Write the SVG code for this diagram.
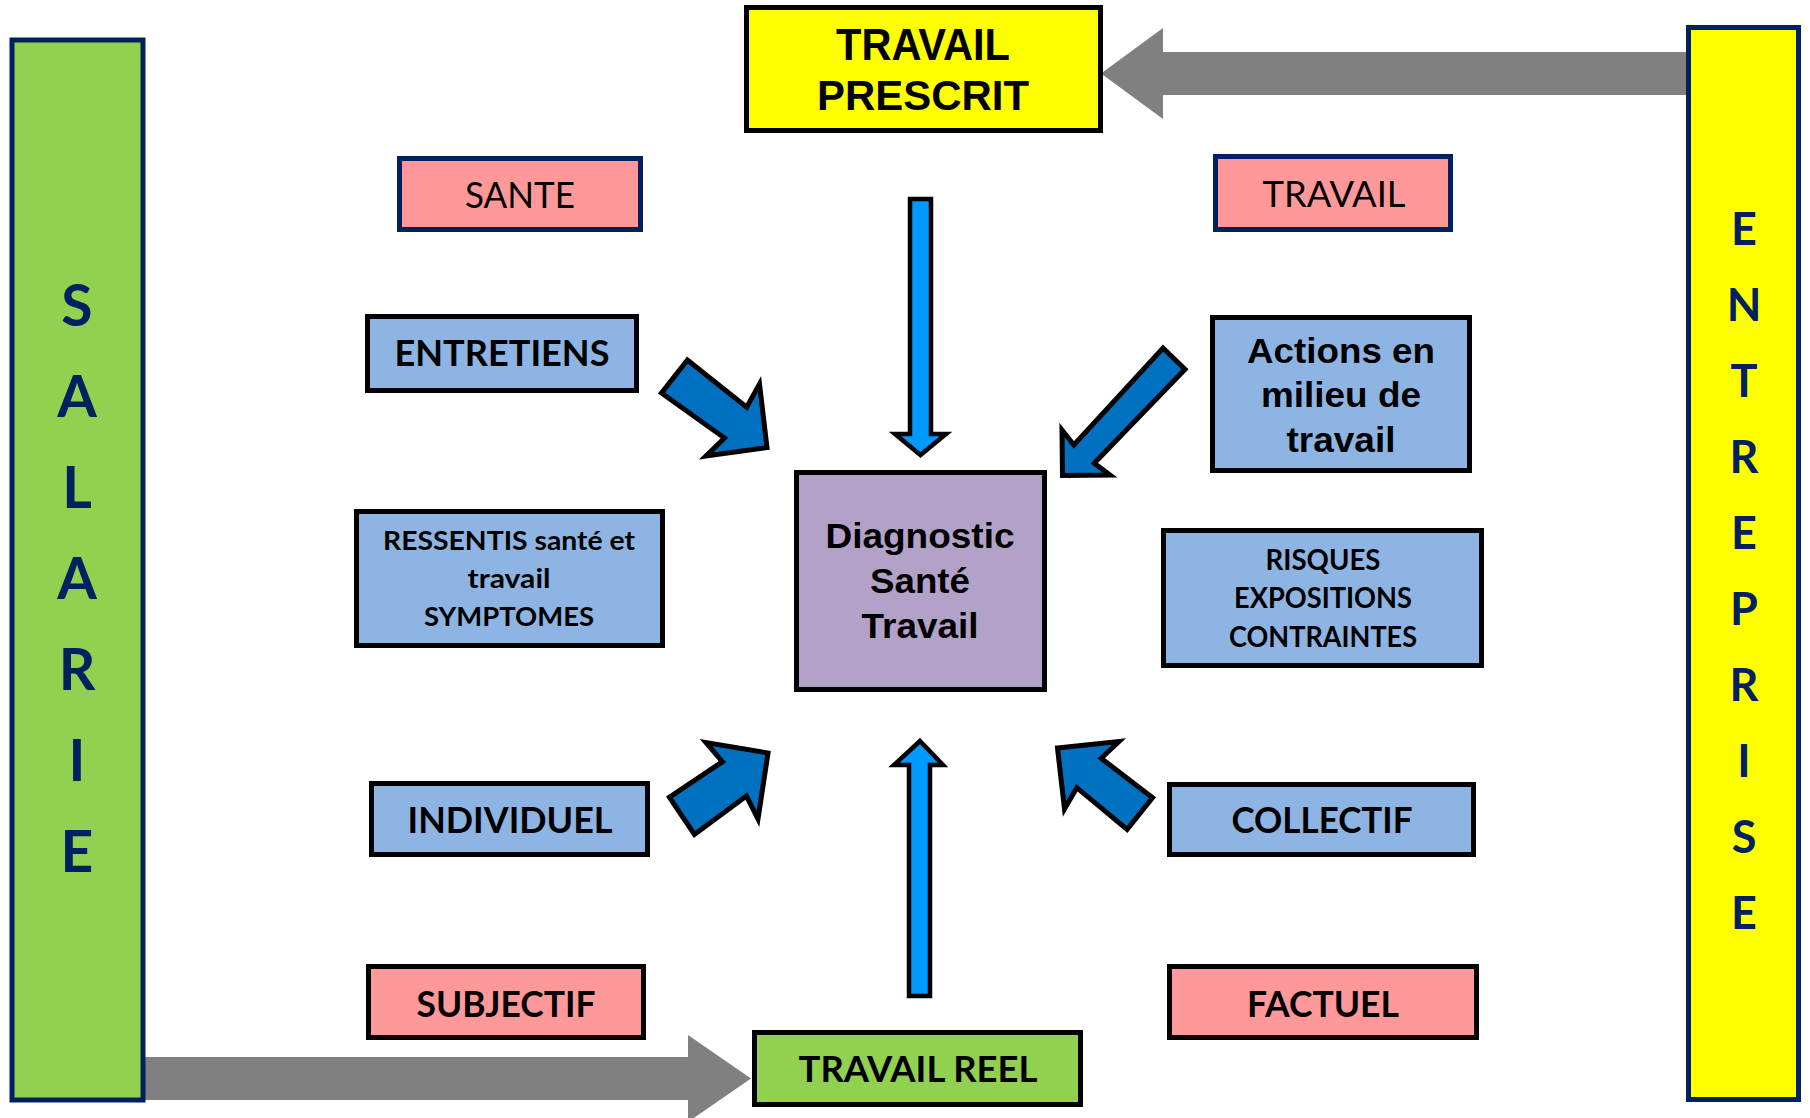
<svg xmlns="http://www.w3.org/2000/svg" width="1810" height="1118" viewBox="0 0 1810 1118">
<style>
  text { text-anchor: middle; }
  .cal { font-family: Lato, "Open Sans", sans-serif; font-weight: 700; fill: #000; }
  .calr { font-family: Lato, "Open Sans", sans-serif; font-weight: 400; fill: #000; }
  .ari { font-family: "Liberation Sans", Arial, sans-serif; font-weight: 700; fill: #000; }
  .vert { font-family: Lato, "Open Sans", sans-serif; font-weight: 700; fill: #002060; }
  .box { stroke: #000; stroke-width: 5; }
  .nbox { stroke: #002060; stroke-width: 5; }
  .pink { fill: #FF9999; }
  .lblue { fill: #8EB4E3; }
  .purple { fill: #B3A2C7; }
  .yellow { fill: #FFFF00; }
  .green { fill: #92D050; }
  .gray { fill: #808080; }
  .big { fill: #0070C0; stroke: #000; stroke-width: 5; stroke-linejoin: miter; }
  .thin { fill: #0099FF; stroke: #000; stroke-width: 4.5; stroke-linejoin: miter; }
</style>

<g id="connectors">
  <polygon class="gray" points="1101,73.5 1163,28 1163,52 1692,52 1692,95 1163,95 1163,119"/>
  <polygon class="gray" points="140,1057 688,1057 688,1035 751,1078.5 688,1122 688,1100 140,1100"/>
  <polygon class="thin" points="910,199 931,199 931,434 946,434 920.5,455 895,434 910,434"/>
  <polygon class="thin" points="920,741 943,765 930,765 930,996 909,996 909,765 894,765"/>
  <polygon class="big" points="687.4,360 661.5,393 724.5,438 706,456 767,447.5 759.5,384 746.7,407.3"/>
  <polygon class="big" points="1163,348 1185,369.3 1094.3,463.3 1110,475 1062.5,475.5 1062,430 1073.9,445"/>
  <polygon class="big" points="669.5,797.3 694.4,834.5 746.4,796 758,819 768,753 706,742.5 722.4,761.7"/>
  <polygon class="big" points="1057.5,748 1119,741.5 1101.2,758.3 1152.5,797.7 1127.1,829.5 1076.8,787.7 1064.5,809"/>
</g>

<g id="salarie">
  <rect class="nbox green" x="12" y="40" width="131" height="1060"/>
  <text class="vert" font-size="57" x="77" y="326">S</text>
  <text class="vert" font-size="57" x="77" y="417">A</text>
  <text class="vert" font-size="57" x="77" y="508">L</text>
  <text class="vert" font-size="57" x="77" y="599">A</text>
  <text class="vert" font-size="57" x="77" y="690">R</text>
  <text class="vert" font-size="57" x="77" y="781">I</text>
  <text class="vert" font-size="57" x="77" y="872">E</text>
</g>

<g id="entreprise">
  <rect class="nbox yellow" x="1688.5" y="27.5" width="110" height="1072"/>
  <text class="vert" font-size="45" x="1744" y="245">E</text>
  <text class="vert" font-size="45" x="1744" y="321">N</text>
  <text class="vert" font-size="45" x="1744" y="397">T</text>
  <text class="vert" font-size="45" x="1744" y="473">R</text>
  <text class="vert" font-size="45" x="1744" y="549">E</text>
  <text class="vert" font-size="45" x="1744" y="625">P</text>
  <text class="vert" font-size="45" x="1744" y="701">R</text>
  <text class="vert" font-size="45" x="1744" y="777">I</text>
  <text class="vert" font-size="45" x="1744" y="853">S</text>
  <text class="vert" font-size="45" x="1744" y="929">E</text>
</g>

<g id="travail-prescrit">
  <rect class="box yellow" x="746.5" y="7.5" width="354" height="123"/>
  <text class="ari" font-size="44" x="923" y="60" textLength="174" lengthAdjust="spacingAndGlyphs">TRAVAIL</text>
  <text class="ari" font-size="43" x="923" y="110" textLength="212" lengthAdjust="spacingAndGlyphs">PRESCRIT</text>
</g>

<g id="sante">
  <rect class="nbox pink" x="399.5" y="158.5" width="241" height="71"/>
  <text class="calr" font-size="36" x="520" y="208" textLength="110" lengthAdjust="spacingAndGlyphs">SANTE</text>
</g>

<g id="travail">
  <rect class="nbox pink" x="1215.5" y="156.5" width="235" height="73"/>
  <text class="calr" font-size="36" x="1334" y="207" textLength="143" lengthAdjust="spacingAndGlyphs">TRAVAIL</text>
</g>

<g id="entretiens">
  <rect class="box lblue" x="367.5" y="316.5" width="269" height="74"/>
  <text class="cal" font-size="36" x="502" y="366" textLength="215" lengthAdjust="spacingAndGlyphs">ENTRETIENS</text>
</g>

<g id="actions">
  <rect class="box lblue" x="1212.5" y="317.5" width="257" height="153"/>
  <text class="ari" font-size="35" x="1341" y="363" textLength="188" lengthAdjust="spacingAndGlyphs">Actions en</text>
  <text class="ari" font-size="35" x="1341" y="407" textLength="160" lengthAdjust="spacingAndGlyphs">milieu de</text>
  <text class="ari" font-size="35" x="1341" y="452" textLength="109" lengthAdjust="spacingAndGlyphs">travail</text>
</g>

<g id="diagnostic">
  <rect class="box purple" x="796.5" y="472.5" width="248" height="217"/>
  <text class="ari" font-size="35" x="920" y="548" textLength="189" lengthAdjust="spacingAndGlyphs">Diagnostic</text>
  <text class="ari" font-size="35" x="920" y="593" textLength="100" lengthAdjust="spacingAndGlyphs">Santé</text>
  <text class="ari" font-size="35" x="920" y="638" textLength="117" lengthAdjust="spacingAndGlyphs">Travail</text>
</g>

<g id="ressentis">
  <rect class="box lblue" x="356.5" y="511.5" width="306" height="134"/>
  <text class="cal" font-size="26" x="509" y="550" textLength="252" lengthAdjust="spacingAndGlyphs">RESSENTIS santé et</text>
  <text class="cal" font-size="26" x="509" y="588" textLength="83" lengthAdjust="spacingAndGlyphs">travail</text>
  <text class="cal" font-size="26" x="509" y="626" textLength="170" lengthAdjust="spacingAndGlyphs">SYMPTOMES</text>
</g>

<g id="risques">
  <rect class="box lblue" x="1163.5" y="530.5" width="318" height="135"/>
  <text class="cal" font-size="28" x="1323" y="570" textLength="115" lengthAdjust="spacingAndGlyphs">RISQUES</text>
  <text class="cal" font-size="28" x="1323" y="608" textLength="178" lengthAdjust="spacingAndGlyphs">EXPOSITIONS</text>
  <text class="cal" font-size="28" x="1323" y="647" textLength="188" lengthAdjust="spacingAndGlyphs">CONTRAINTES</text>
</g>

<g id="individuel">
  <rect class="box lblue" x="371.5" y="783.5" width="276" height="71"/>
  <text class="cal" font-size="36" x="510" y="833" textLength="205" lengthAdjust="spacingAndGlyphs">INDIVIDUEL</text>
</g>

<g id="collectif">
  <rect class="box lblue" x="1169.5" y="784.5" width="304" height="70"/>
  <text class="cal" font-size="36" x="1322" y="833" textLength="181" lengthAdjust="spacingAndGlyphs">COLLECTIF</text>
</g>

<g id="subjectif">
  <rect class="box pink" x="368.5" y="966.5" width="275" height="71"/>
  <text class="cal" font-size="36" x="506" y="1017" textLength="179" lengthAdjust="spacingAndGlyphs">SUBJECTIF</text>
</g>

<g id="factuel">
  <rect class="box pink" x="1169.5" y="966.5" width="307" height="71"/>
  <text class="cal" font-size="36" x="1323" y="1017" textLength="152" lengthAdjust="spacingAndGlyphs">FACTUEL</text>
</g>

<g id="travail-reel">
  <rect class="box green" x="754.5" y="1032.5" width="326" height="72"/>
  <text class="cal" font-size="36" x="918" y="1082" textLength="239" lengthAdjust="spacingAndGlyphs">TRAVAIL REEL</text>
</g>
</svg>
